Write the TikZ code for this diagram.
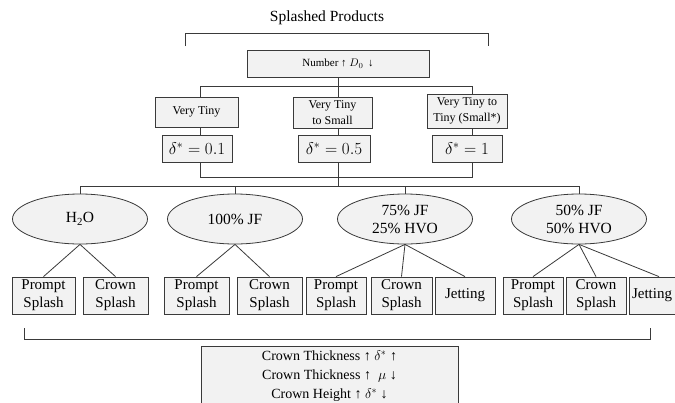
\documentclass[tikz,border=0pt]{standalone}
\usepackage{fix-cm}
\usepackage[no-math]{fontspec}
\setmainfont{Liberation Serif}
\usetikzlibrary{shapes.geometric}

\definecolor{ink}{HTML}{3A3A3A}
\definecolor{boxfill}{HTML}{F2F2F2}

\tikzset{
  link/.style={draw=ink, line width=0.8pt},
  panel/.style 2 args={draw=ink, line width=0.8pt, fill=boxfill, inner sep=0pt,
    align=center, minimum width=#1, minimum height=#2},
  leaf/.style={panel={#1}{37pt}, font=\fontsize{15}{18}\selectfont},
  sizebox/.style 2 args={panel={#1}{#2}, font=\fontsize{12}{15.5}\selectfont},
  deltabox/.style={panel={#1}{27pt}, font=\fontsize{17}{20}\selectfont},
  fuel/.style={ellipse, draw=ink, line width=0.8pt, fill=boxfill, inner sep=0pt,
    minimum width=135pt, minimum height=50pt, align=center,
    font=\fontsize{15.5}{18}\selectfont},
}

\begin{document}
\begin{tikzpicture}[x=1pt, y=-1pt]
\clip (0,0) rectangle (675,402);
\fill[white] (0,0) rectangle (675,402);

% heading and its bracket
\node[font=\fontsize{15.5}{18}\selectfont] (title) at (327,18) {Splashed Products};
\coordinate (tl) at (185,46);
\coordinate (tr) at (488,46);
\draw[link] (tl) -- ++(0,-13) -| (tr);

% droplet number
\node[panel={182pt}{27pt}, font=\fontsize{11}{13}\selectfont] (num) at (338,63.5)
  {Number ↑ $D_0$\, ↓};

% size classes
\node[sizebox={83pt}{30pt}] (vt) at (196.5,112) {Very Tiny};
\node[sizebox={79pt}{31pt}] (vts) at (332.5,112.5) {Very Tiny\\to Small};
\node[sizebox={80pt}{34pt}] (vtt) at (467,111) {Very Tiny to\\Tiny (Small*)};

% thickness ratios
\node[deltabox=70pt] (d1) at (197,148.5) {$\delta^* = 0.1$};
\node[deltabox=72pt] (d2) at (334,148.5) {$\delta^* = 0.5$};
\node[deltabox=70pt] (d3) at (467,148.5) {$\delta^* = 1$};

% trunk lines
\coordinate (busL) at (200,86);
\coordinate (busR) at (472,86);
\coordinate (jL) at (200,177);
\coordinate (jR) at (472,177);
\coordinate (jM) at (338,186);

\draw[link] (num.south) -- (vts.north -| num.south);
\draw[link] (vt.north -| busL) -- (busL) -- (busR) -- (vtt.north -| busR);
\draw[link] (vt.south -| busL) -- (d1.north -| busL);
\draw[link] (vts.south -| num.south) -- (d2.north -| num.south);
\draw[link] (vtt.south -| busR) -- (d3.north -| busR);
\draw[link] (d1.south -| jL) -- (jL) -- (jR) -- (d3.south -| jR);
\draw[link] (d2.south -| jM) -- (jM);

% fluids
\node[fuel] (e1) at (80,219) {H\textsubscript{2}O};
\node[fuel] (e2) at (235,219) {100\% JF};
\node[fuel] (e3) at (405,219) {75\% JF\\25\% HVO};
\node[fuel] (e4) at (579,219) {50\% JF\\50\% HVO};

\draw[link] (e1.north) -- (e1.north |- jM) -- (e4.north |- jM) -- (e4.north);
\draw[link] (e2.north) -- (e2.north |- jM);
\draw[link] (e3.north) -- (e3.north |- jM);

% splash outcomes
\node[leaf=63pt] (p1) at (43.5,295.5) {Prompt\\Splash};
\node[leaf=65pt] (c1) at (115.5,295.5) {Crown\\Splash};
\node[leaf=65pt] (p2) at (196.5,295.5) {Prompt\\Splash};
\node[leaf=65pt] (c2) at (269.5,295.5) {Crown\\Splash};
\node[leaf=60pt] (p3) at (336,295.5) {Prompt\\Splash};
\node[leaf=61pt] (c3) at (401.5,295.5) {Crown\\Splash};
\node[leaf=60pt] (j3) at (465,295.5) {Jetting};
\node[leaf=60pt] (p4) at (533,295.5) {Prompt\\Splash};
\node[leaf=60pt] (c4) at (596,295.5) {Crown\\Splash};
\node[leaf=60pt, align=left, text width=54pt, inner xsep=3pt] (j4) at (659,295.5) {Jetting};

\draw[link] (e1.south) -- (p1.north);
\draw[link] (e1.south) -- (c1.north);
\draw[link] (e2.south) -- (p2.north);
\draw[link] (e2.south) -- (c2.north);
\draw[link] (e3.south) -- (p3.north);
\draw[link] (e3.south) -- (c3.north);
\draw[link] (e3.south) -- (j3.north);
\draw[link] (e4.south) -- (p4.north);
\draw[link] (e4.south) -- (c4.north);
\draw[link] (e4.south) -- (j4.north);

% closing bracket and crown trends
\coordinate (bl) at (24,328);
\coordinate (br) at (650,328);
\draw[link] (bl) -- ++(0,11) -| (br);

\node[panel={257pt}{60pt}, font=\fontsize{14}{19}\selectfont] (trend) at (329.5,376)
  {Crown Thickness ↑ $\delta^*$ ↑\\
   Crown Thickness ↑ \ $\mu$ ↓\\
   Crown Height ↑ $\delta^*$ ↓};
\end{tikzpicture}
\end{document}
